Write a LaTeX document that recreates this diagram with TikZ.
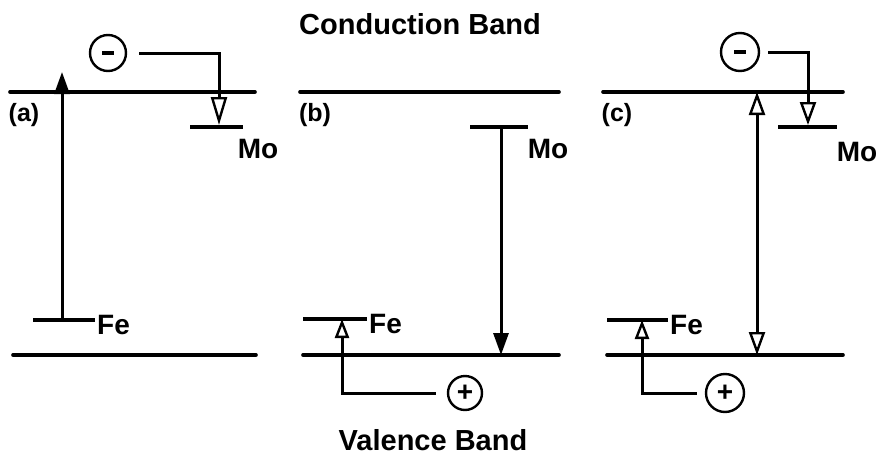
\documentclass[tikz,border=0pt]{standalone}
\usepackage{fontspec}
\setmainfont{Liberation Sans}
\usetikzlibrary{arrows.meta}
\begin{document}
\begin{tikzpicture}[x=1pt,y=-1pt,
  band/.style={line width=3.6pt,line cap=round},
  level/.style={line width=3.3pt},
  conn/.style={line width=3pt},
  fillarr/.style={conn,-{Triangle[length=22pt,width=15pt]}},
  otip/.style={},
  openarr/.style={conn,-{Triangle[open,length=23pt,width=16pt,line width=2.4pt]}},
  charge/.style={circle,draw,line width=2.4pt,minimum size=36pt,inner sep=0pt},
  lbl/.style={font=\bfseries\fontsize{28}{30}\selectfont,inner sep=0pt},
  plbl/.style={font=\bfseries\fontsize{25}{28}\selectfont,inner sep=0pt},
  ttl/.style={font=\bfseries\fontsize{29}{32}\selectfont,inner sep=0pt}]
\useasboundingbox (0,0) rectangle (879,469);

% titles
\node[ttl] (cb) at (420,24) {Conduction Band};
\node[ttl] (vb) at (433,440) {Valence Band};

% ---------- panel (a)
\draw[band] (10,92) coordinate (aCBl) -- (255,92) coordinate (aCBr);
\draw[band] (13,355) coordinate (aVBl) -- (256,355) coordinate (aVBr);
\node[plbl] (alab) at (24,115) {(a)};
\draw[level] (33,320) coordinate (aFel) -- (95,320) coordinate (aFer);
\node[lbl,anchor=west] (aFe) at (97,325) {Fe};
\coordinate (aFeS) at (62,320);
\coordinate (aTop) at (62,72);
\draw[fillarr] (aFeS) -- (aTop);
\draw[level] (190,127) coordinate (aMol) -- (243,127) coordinate (aMor);
\node[lbl] (aMo) at (258,149) {Mo};
\node[charge] (am) at (108,53) {\rule[-1.8pt]{12pt}{3.6pt}};
\coordinate (aMoTip) at (219,125);
\draw[conn,-{Triangle[open,length=28pt,width=16pt,line width=2.4pt]},shorten <=12pt] (am.east) -| (aMoTip);

% ---------- panel (b)
\draw[band] (300,92) coordinate (bCBl) -- (559,92) coordinate (bCBr);
\draw[band] (303,355) coordinate (bVBl) -- (559,355) coordinate (bVBr);
\node[plbl] (blab) at (315,115) {(b)};
\draw[level] (470,127) coordinate (bMol) -- (528,127) coordinate (bMor);
\node[lbl] (bMo) at (548,149) {Mo};
\coordinate (bMoS) at (501,127);
\coordinate (bVBt) at (501,355);
\draw[fillarr] (bMoS) -- (bVBt);
\draw[level] (303,319) coordinate (bFel) -- (367,319) coordinate (bFer);
\node[lbl,anchor=west] (bFe) at (369,324) {Fe};
\node[charge,minimum size=34pt] (bp) at (465,393) {\textbf{\fontsize{28}{28}\selectfont +}};
\coordinate (bFeTip) at (342,319);
\draw[conn,-{Triangle[open,length=19pt,width=14pt,line width=2.4pt]},shorten <=11pt] (bp.west) -| (bFeTip);

% ---------- panel (c)
\draw[band] (603,92) coordinate (cCBl) -- (843,92) coordinate (cCBr);
\draw[band] (607,355) coordinate (cVBl) -- (843,355) coordinate (cVBr);
\node[plbl] (clab) at (617,115) {(c)};
\node[charge,minimum size=38pt] (cm) at (740,52) {\rule[-1.8pt]{12pt}{3.6pt}};
\coordinate (cMoTip) at (808,125);
\draw[openarr,shorten <=8pt] (cm.east) -| (cMoTip);
\draw[level] (778,127) coordinate (cMol) -- (837,127) coordinate (cMor);
\node[lbl] (cMo) at (857,152) {Mo};
\coordinate (cTop) at (757,92);
\coordinate (cBot) at (757,355);
\draw[conn,{Triangle[open,length=23pt,width=16pt,line width=2.4pt]}-{Triangle[open,length=23pt,width=16pt,line width=2.4pt]}] (cTop) -- (cBot);
\draw[level] (607,320) coordinate (cFel) -- (668,320) coordinate (cFer);
\node[lbl,anchor=west] (cFe) at (670,325) {Fe};
\node[charge,minimum size=38pt] (cp) at (725,393) {\textbf{\fontsize{28}{28}\selectfont +}};
\coordinate (cFeTip) at (642,320);
\draw[conn,-{Triangle[open,length=19pt,width=14pt,line width=2.4pt]},shorten <=8pt] (cp.west) -| (cFeTip);
\end{tikzpicture}
\end{document}
